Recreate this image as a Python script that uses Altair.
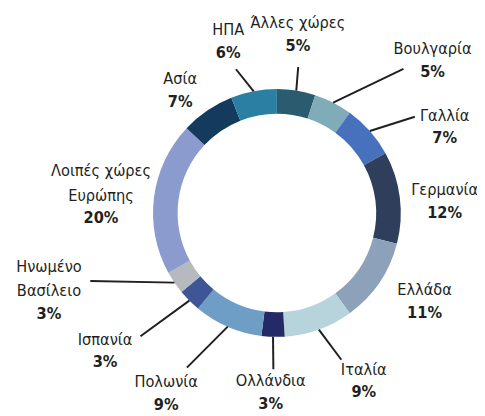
import altair as alt
import pandas as pd

# ---- data ----
categories = ["Άλλες χώρες", "Βουλγαρία", "Γαλλία", "Γερμανία", "Ελλάδα", "Ιταλία",
              "Ολλάνδια", "Πολωνία", "Ισπανία", "Ηνωμένο\nΒασίλειο",
              "Λοιπές χώρες\nΕυρώπης", "Ασία", "ΗΠΑ"]
values = [5, 5, 7, 12, 11, 9, 3, 9, 3, 3, 20, 7, 6]
colors = ["#2b5b6e", "#80abb9", "#4771bd", "#2f3f5b", "#8ea1ba", "#b7d3db",
          "#232a66", "#6e9dc5", "#3e5596", "#b6b9be", "#8c9bcd", "#143a5e", "#2b7fa2"]

# ---- label layout (polar: radius in px, angle shift in degrees from slice middle) ----
label_radius = [183, 222, 192, 171, 175, 192, 182, 215, 224, 249, 179, 159, 182]
label_shift = [-2.3, 18.5, 14.1, 3.2, -3.3, -7.6, 0.2, 8.2, 6.3, 12.8, -5.1, -4.0, -5.0]
line_radius = [150, 195, 171, 0, 0, 163, 159, 182, 187, 202, 0, 0, 152]
line_shift = [-0.7, 14.3, 6.5, 0, 0, -3.9, -0.5, 6.8, 2.9, 14.2, 0, 0, -5.1]

CX, CY = 273.5, 205
R_OUT, R_IN = 126, 101
LH = 25
FONT = "DejaVu Sans Condensed, Liberation Sans Narrow, sans-serif"
TXT = "#231f20"

df = pd.DataFrame({
    "idx": list(range(len(categories))),
    "name": categories,
    "nl": [c.count("\n") + 1 for c in categories],
    "value": values,
    "pct": [f"{v}%" for v in values],
    "color": colors,
    "lr": label_radius,
    "ls": label_shift,
    "rr": line_radius,
    "rs": line_shift,
})

base = alt.Chart(df).transform_joinaggregate(
    total="sum(value)"
).transform_window(
    cum="sum(value)", sort=[alt.SortField("idx")], frame=[None, 0]
).transform_calculate(
    mid="(datum.cum - datum.value/2) / datum.total * 2 * PI",
)

arcs = alt.Chart(df).mark_arc(outerRadius=R_OUT, innerRadius=R_IN, stroke=None).encode(
    theta=alt.Theta("value:Q", stack=True),
    order=alt.Order("idx:Q"),
    color=alt.Color("color:N", scale=None),
    x=alt.value(CX),
    y=alt.value(CY),
)

lines = base.transform_filter("datum.rr > 0").transform_calculate(
    x1=f"{CX} + {R_OUT}*sin(datum.mid)",
    y1=f"{CY} - {R_OUT}*cos(datum.mid)",
    x2=f"{CX} + datum.rr*sin(datum.mid + datum.rs*PI/180)",
    y2=f"{CY} - datum.rr*cos(datum.mid + datum.rs*PI/180)",
).mark_rule(color=TXT, strokeWidth=2).encode(
    x=alt.X("x1:Q", scale=None),
    y=alt.Y("y1:Q", scale=None),
    x2="x2:Q",
    y2="y2:Q",
)

lab = base.transform_calculate(
    lx=f"{CX} + datum.lr*sin(datum.mid + datum.ls*PI/180)",
    ly=f"{CY} - datum.lr*cos(datum.mid + datum.ls*PI/180)",
).transform_calculate(
    ny=f"datum.ly - (datum.nl - 1) * {LH}",
)

names = lab.mark_text(font=FONT, fontSize=16.5, color=TXT, baseline="bottom",
                      lineBreak="\n", lineHeight=LH, dy=-3, align="center").encode(
    x=alt.X("lx:Q", scale=None),
    y=alt.Y("ny:Q", scale=None),
    text="name:N",
)

pcts = lab.mark_text(font=FONT, fontSize=16.5, fontWeight="bold", color=TXT,
                     baseline="top", dy=4, align="center").encode(
    x=alt.X("lx:Q", scale=None),
    y=alt.Y("ly:Q", scale=None),
    text="pct:N",
)

chart = alt.layer(arcs, lines, names, pcts).properties(
    width=477, height=408, padding=0,
    autosize=alt.AutoSizeParams(type="none"),
).configure_view(strokeWidth=0)

chart.save("out.html", embed_options={"renderer": "svg", "actions": False})
